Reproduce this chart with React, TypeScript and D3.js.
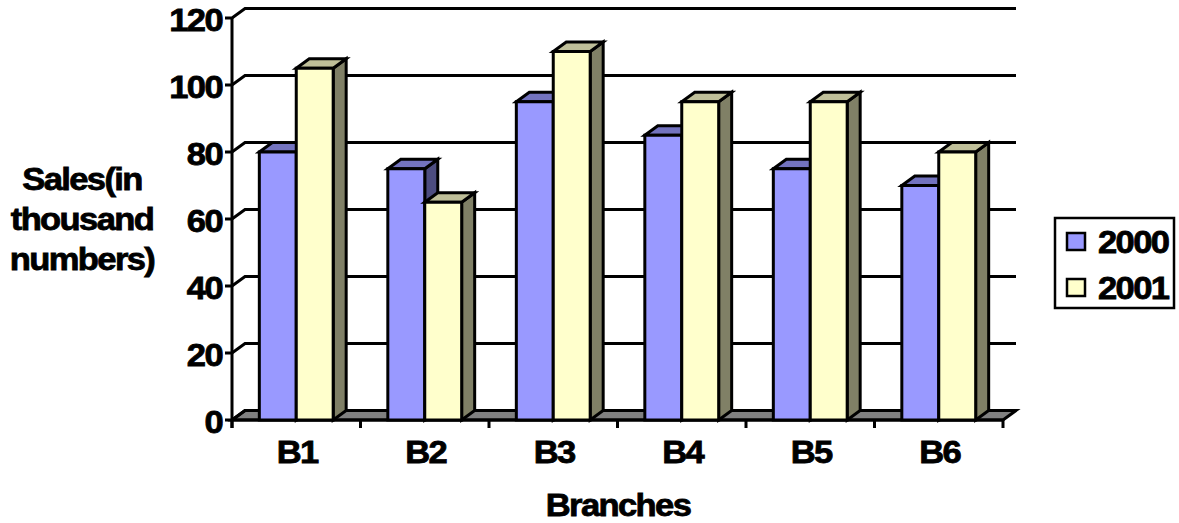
import React from "react";
import * as d3 from "d3";

const branches = ["B1", "B2", "B3", "B4", "B5", "B6"];
const series2000 = [80, 75, 95, 85, 75, 70];
const series2001 = [105, 65, 110, 95, 95, 80];
const yTicks = [0, 20, 40, 60, 80, 100, 120];
const yearLabels = ["2000", "2001"];
const yTitle = ["Sales(in", "thousand", "numbers)"];

const W = 1179, H = 523;
const left = 232, right = 1003, y0 = 420, yTop = 18;
const dx = 13, dy = 9.5;
const font = "'Liberation Sans', Arial, sans-serif";

const palette = [
  { front: "#9999FF", top: "#7373BF", side: "#4D4D80" },
  { front: "#FFFFCC", top: "#BFBF99", side: "#808066" },
];

const textStyle = { fontFamily: font, fontWeight: 700, fill: "#000", stroke: "#000", strokeWidth: 0.8, letterSpacing: "-1.5px", fontSize: 32 } as const;

function Label({ x, y, anchor, children }: { x: number; y: number; anchor: "start" | "middle" | "end"; children: React.ReactNode }) {
  return (
    <text transform={`translate(${x},${y}) scale(1.08,1)`} textAnchor={anchor} style={textStyle}>
      {children}
    </text>
  );
}

export default function App() {
  const y = d3.scaleLinear().domain([0, 120]).range([y0, yTop]);
  const x = d3.scaleBand<string>().domain(branches).range([left, right]).paddingInner(0).paddingOuter(0);
  const sub = d3.scaleBand<string>().domain(yearLabels).range([0, x.bandwidth()]).paddingOuter(0.74).paddingInner(0);
  const sw = 3;
  const bar = (cat: string, yi: number, v: number) => {
    const bx = x(cat)! + sub(yearLabels[yi])!;
    const bw = sub.bandwidth();
    const ty = y(v);
    const c = palette[yi];
    const pts = (a: number[][]) => a.map((p) => p.join(",")).join(" ");
    return (
      <g key={cat + yi} stroke="#000" strokeWidth={sw} strokeLinejoin="miter">
        <polygon fill={c.side} points={pts([[bx + bw, ty], [bx + bw + dx, ty - dy], [bx + bw + dx, y0 - dy], [bx + bw, y0]])} />
        <polygon fill={c.top} points={pts([[bx, ty], [bx + dx, ty - dy], [bx + bw + dx, ty - dy], [bx + bw, ty]])} />
        <rect x={bx} y={ty} width={bw} height={y0 - ty} fill={c.front} />
      </g>
    );
  };
  return (
    <svg width={W} height={H} style={{ position: "absolute", left: 0, top: 0, background: "#fff" }}>
      <polygon
        points={`${left},${y0} ${right},${y0} ${right + dx},${y0 - dy} ${left + dx},${y0 - dy}`}
        fill="#808080" stroke="#000" strokeWidth={sw}
      />
      {yTicks.map((t) => (
        <g key={t} stroke="#000" strokeWidth={sw} fill="none">
          <polyline points={`${left - 7},${y(t)} ${left},${y(t)} ${left + dx},${y(t) - dy} ${right + dx},${y(t) - dy}`} />
        </g>
      ))}
      <line x1={left} x2={left} y1={yTop} y2={y0 + 8} stroke="#000" strokeWidth={sw} />
      <line x1={left} x2={right} y1={y0} y2={y0} stroke="#000" strokeWidth={sw} />
      {d3.range(branches.length + 1).map((i) => {
        const tx = left + i * x.bandwidth();
        return <line key={i} x1={tx} x2={tx} y1={y0} y2={y0 + 8} stroke="#000" strokeWidth={sw} />;
      })}
      {branches.map((b, i) => (
        <g key={b}>
          {bar(b, 0, series2000[i])}
          {bar(b, 1, series2001[i])}
        </g>
      ))}
      {yTicks.map((t) => (
        <Label key={t} x={222} y={y(t) + 13} anchor="end">{t}</Label>
      ))}
      {branches.map((b) => (
        <Label key={b} x={x(b)! + x.bandwidth() / 2 + 1} y={463} anchor="middle">{b}</Label>
      ))}
      <Label x={618} y={516} anchor="middle">Branches</Label>
      {yTitle.map((s, i) => (
        <Label key={s} x={82} y={190 + i * 40} anchor="middle">{s}</Label>
      ))}
      <rect x={1055} y={218} width={119} height={90} fill="#fff" stroke="#000" strokeWidth={2.5} />
      {yearLabels.map((l, i) => (
        <g key={l}>
          <rect x={1067} y={233 + i * 46} width={18} height={17} fill={palette[i].front} stroke="#000" strokeWidth={2.5} />
          <Label x={1098} y={253 + i * 46} anchor="start">{l}</Label>
        </g>
      ))}
    </svg>
  );
}
